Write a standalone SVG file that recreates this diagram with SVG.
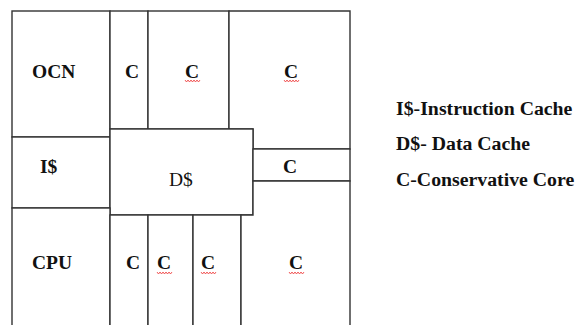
<svg xmlns="http://www.w3.org/2000/svg" width="577" height="325" viewBox="0 0 577 325">
<style>
.cell{fill:#fff;stroke:#333;stroke-width:1.4}
.t{font-family:"Liberation Serif","Times New Roman",serif;font-weight:bold;font-size:19.5px;fill:#111}
.lg{font-size:19.8px}
.n{font-weight:normal}
.sq{fill:none;stroke:#e33;stroke-width:0.8}
</style>
<rect width="577" height="325" fill="#fff"/>
<g id="ocn"><rect class="cell" x="12" y="11" width="98" height="126"/><text class="t" x="32" y="78">OCN</text></g>
<g id="c-top-1"><rect class="cell" x="110" y="11" width="38" height="118"/><text class="t" x="125" y="78">C</text></g>
<g id="c-top-2"><rect class="cell" x="148" y="11" width="81" height="118"/><text class="t" x="185" y="78">C</text><path class="sq" d="M185,80 l1.5,2 l1.5,-2 l1.5,2 l1.5,-2 l1.5,2 l1.5,-2 l1.5,2 l1.5,-2 l1.5,2 l1.5,-2"/></g>
<g id="c-top-3"><polygon class="cell" points="229,11 350,11 350,149 253,149 253,129 229,129"/><text class="t" x="284" y="78">C</text><path class="sq" d="M284,80 l1.5,2 l1.5,-2 l1.5,2 l1.5,-2 l1.5,2 l1.5,-2 l1.5,2 l1.5,-2 l1.5,2 l1.5,-2"/></g>
<g id="icache"><rect class="cell" x="12" y="137" width="98" height="71"/><text class="t" x="40" y="173">I$</text></g>
<g id="dcache"><rect class="cell" x="110" y="129" width="143" height="86"/><text class="t n" x="169" y="186">D$</text></g>
<g id="c-right"><rect class="cell" x="253" y="149" width="97" height="32"/><text class="t" x="283" y="173">C</text></g>
<g id="cpu"><rect class="cell" x="12" y="208" width="98" height="130"/><text class="t" x="32" y="269">CPU</text></g>
<g id="c-bot-1"><rect class="cell" x="110" y="215" width="38" height="123"/><text class="t" x="126" y="269">C</text></g>
<g id="c-bot-2"><rect class="cell" x="148" y="215" width="45" height="123"/><text class="t" x="157" y="269">C</text><path class="sq" d="M157,272 l1.5,2 l1.5,-2 l1.5,2 l1.5,-2 l1.5,2 l1.5,-2 l1.5,2 l1.5,-2 l1.5,2 l1.5,-2"/></g>
<g id="c-bot-3"><rect class="cell" x="193" y="215" width="48" height="123"/><text class="t" x="201" y="269">C</text><path class="sq" d="M201,272 l1.5,2 l1.5,-2 l1.5,2 l1.5,-2 l1.5,2 l1.5,-2 l1.5,2 l1.5,-2 l1.5,2 l1.5,-2"/></g>
<g id="c-bot-4"><polygon class="cell" points="241,215 253,215 253,181 350,181 350,338 241,338"/><text class="t" x="289" y="269">C</text><path class="sq" d="M289,272 l1.5,2 l1.5,-2 l1.5,2 l1.5,-2 l1.5,2 l1.5,-2 l1.5,2 l1.5,-2 l1.5,2 l1.5,-2"/></g>
<g id="connectors"></g>
<g id="legend">
<text class="t lg" x="396" y="115">I$-Instruction Cache</text>
<text class="t lg" x="396" y="150">D$- Data Cache</text>
<text class="t lg" x="396" y="186">C-Conservative Core</text>
</g>
</svg>
